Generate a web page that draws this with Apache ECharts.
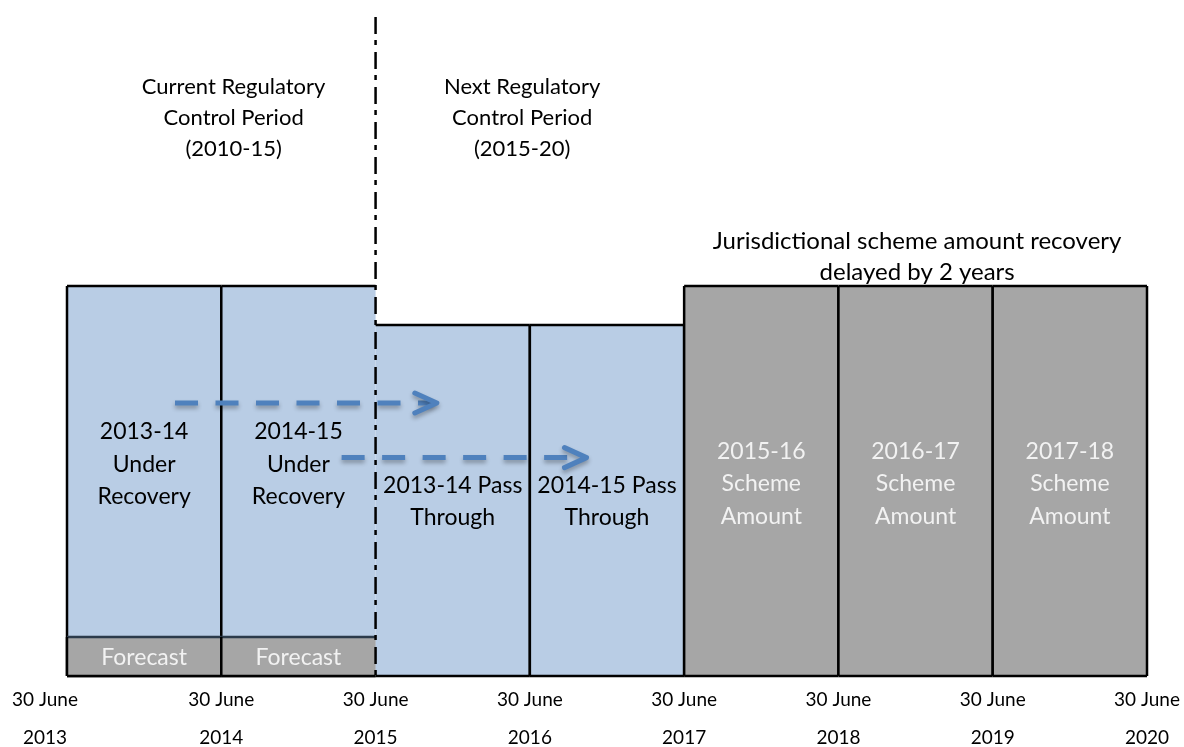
<!DOCTYPE html>
<html>
<head>
<meta charset="utf-8">
<script src="https://cdn.jsdelivr.net/npm/echarts@6/dist/echarts.min.js"></script>
<style>
  html, body { margin: 0; padding: 0; background: #fff; }
  #chart { width: 1184px; height: 747px; }
</style>
</head>
<body>
<div id="chart"></div>
<script>
// ticks along the bottom
const tickYears = [2013, 2014, 2015, 2016, 2017, 2018, 2019, 2020]
const tickPrefix = '30 June'

// the big blocks
const blockStart = [2013, 2014, 2015, 2016, 2017, 2018, 2019]
const blockEnd = [2014, 2015, 2016, 2017, 2018, 2019, 2020]
const blockHeight = [10, 10, 9, 9, 10, 10, 10]
const blockKind = ['under', 'under', 'pass', 'pass', 'scheme', 'scheme', 'scheme']
const blockLabel = [
  '2013-14\nUnder\nRecovery', '2014-15\nUnder\nRecovery',
  '2013-14 Pass\nThrough', '2014-15 Pass\nThrough',
  '2015-16\nScheme\nAmount', '2016-17\nScheme\nAmount', '2017-18\nScheme\nAmount'
]

// forecast strip under the first two blocks
const forecastStart = [2013, 2014]
const forecastEnd = [2014, 2015]
const forecastHeight = [1, 1]
const forecastLabel = ['Forecast', 'Forecast']

// period boundary
const periodBoundary = 2015
const boundaryTop = 16.9

// arrows
const arrowFromX = [2013.70, 2014.78]
const arrowToX = [2015.41, 2016.38]
const arrowY = [7.0, 5.6]

// annotations
const noteText = [
  'Current Regulatory\nControl Period\n(2010-15)',
  'Next Regulatory\nControl Period\n(2015-20)',
  'Jurisdictional scheme amount recovery\ndelayed by 2 years'
]
const noteX = [2014.08, 2015.95, 2018.51]
const noteY = [14.3, 14.3, 10.76]

const FONT = 'Lato, "Open Sans", sans-serif'
const BLUE = '#B9CDE5'
const GREY = '#A6A6A6'
const EDGE = '#000'

function edges(p0, p1, x0, x1, topColor) {
  const out = []
  const seg = (ax, ay, bx, by, c) => out.push({
    type: 'line',
    shape: { x1: ax, y1: ay, x2: bx, y2: by },
    style: { stroke: c || EDGE, lineWidth: 2.5 }
  })
  seg(p0[0], p1[1], p1[0], p1[1], topColor)
  seg(p0[0], p0[1], p1[0], p0[1])
  if (x0 !== periodBoundary) seg(p0[0], p0[1], p0[0], p1[1])
  if (x1 !== periodBoundary) seg(p1[0], p0[1], p1[0], p1[1])
  return out
}

function renderBlock(params, api) {
  const i = params.dataIndex
  const x0 = api.value(0)
  const x1 = api.value(1)
  const h = api.value(2)
  const kind = blockKind[i]
  const p0 = api.coord([x0, 0])
  const p1 = api.coord([x1, h])
  const base = kind === 'under' ? forecastHeight[0] : 0
  const mid = api.coord([(x0 + x1) / 2, (base + h) / 2])
  const children = [{
    type: 'rect',
    shape: { x: p0[0], y: p1[1], width: p1[0] - p0[0], height: p0[1] - p1[1] },
    style: { fill: kind === 'scheme' ? GREY : BLUE }
  }].concat(edges(p0, p1, x0, x1))
  children.push({
    type: 'text',
    x: mid[0],
    y: mid[1] + (kind === 'pass' ? 1 : 3),
    style: {
      text: blockLabel[i],
      fill: kind === 'scheme' ? '#F2F2F2' : '#000',
      fontFamily: FONT,
      fontSize: 23,
      lineHeight: 32.5,
      align: 'center',
      verticalAlign: 'middle'
    }
  })
  return { type: 'group', children: children }
}

function renderForecast(params, api) {
  const i = params.dataIndex
  const x0 = api.value(0)
  const x1 = api.value(1)
  const p0 = api.coord([x0, 0])
  const p1 = api.coord([x1, api.value(2)])
  const children = [{
    type: 'rect',
    shape: { x: p0[0], y: p1[1], width: p1[0] - p0[0], height: p0[1] - p1[1] },
    style: { fill: GREY }
  }].concat(edges(p0, p1, x0, x1, '#2B3A4A'))
  children.push({
    type: 'text',
    x: (p0[0] + p1[0]) / 2,
    y: (p0[1] + p1[1]) / 2 + 1,
    style: {
      text: forecastLabel[i],
      fill: '#F2F2F2',
      fontFamily: FONT,
      fontSize: 23,
      align: 'center',
      verticalAlign: 'middle'
    }
  })
  return { type: 'group', children: children }
}

function renderBoundary(params, api) {
  const a = api.coord([api.value(0), api.value(1)])
  const b = api.coord([api.value(0), 0])
  return {
    type: 'line',
    shape: { x1: a[0], y1: a[1], x2: b[0], y2: b[1] },
    style: { stroke: '#000', lineWidth: 2.5, lineDash: [17, 6, 5, 7] }
  }
}

function renderArrow(params, api) {
  const a = api.coord([api.value(0), api.value(2)])
  const b = api.coord([api.value(1), api.value(2)])
  const tip = b[0] - 2
  const look = {
    stroke: '#4F81BD',
    lineWidth: 5,
    shadowBlur: 4,
    shadowOffsetY: 3,
    shadowColor: 'rgba(0,0,0,0.3)'
  }
  return {
    type: 'group',
    children: [{
      type: 'line',
      shape: { x1: a[0], y1: a[1], x2: tip - 4, y2: b[1] },
      style: Object.assign({ lineDash: [23, 17.5] }, look)
    }, {
      type: 'polyline',
      shape: { points: [[tip - 22, b[1] - 10], [tip, b[1]], [tip - 22, b[1] + 10]] },
      style: Object.assign({ fill: null, lineCap: 'round', lineJoin: 'round' }, look)
    }]
  }
}

function renderNote(params, api) {
  const i = params.dataIndex
  const p = api.coord([api.value(0), api.value(1)])
  return {
    type: 'text',
    x: p[0],
    y: p[1],
    style: {
      text: noteText[i],
      fill: '#000',
      fontFamily: FONT,
      fontSize: i === 2 ? 24 : 22,
      lineHeight: 31,
      align: 'center',
      verticalAlign: 'middle'
    }
  }
}

const chart = echarts.init(document.getElementById('chart'))
chart.setOption({
  animation: false,
  backgroundColor: '#fff',
  grid: { left: 67, right: 37, top: 13, bottom: 71, containLabel: false, outerBoundsMode: 'none' },
  xAxis: {
    type: 'value',
    min: tickYears[0],
    max: tickYears[tickYears.length - 1],
    interval: 1,
    axisLine: { show: false },
    axisTick: { show: false },
    splitLine: { show: false },
    axisLabel: {
      margin: 5,
      color: '#000',
      fontFamily: FONT,
      fontSize: 19,
      lineHeight: 38,
      formatter: function (v) {
        if (v === tickYears[0]) return '{f|' + tickPrefix + '}\n{f|' + v + '}'
        return tickPrefix + '\n' + v
      },
      rich: {
        f: { padding: [0, 44, 0, 0], color: '#000', fontFamily: FONT, fontSize: 19, lineHeight: 38 }
      }
    }
  },
  yAxis: {
    type: 'value',
    min: 0,
    max: 17,
    show: false
  },
  series: [{
    type: 'custom',
    z: 2,
    renderItem: renderBlock,
    data: blockStart.map((s, i) => [s, blockEnd[i], blockHeight[i]])
  }, {
    type: 'custom',
    z: 3,
    renderItem: renderForecast,
    data: forecastStart.map((s, i) => [s, forecastEnd[i], forecastHeight[i]])
  }, {
    type: 'custom',
    z: 4,
    renderItem: renderBoundary,
    data: [[periodBoundary, boundaryTop]]
  }, {
    type: 'custom',
    z: 5,
    renderItem: renderArrow,
    data: arrowFromX.map((s, i) => [s, arrowToX[i], arrowY[i]])
  }, {
    type: 'custom',
    z: 5,
    renderItem: renderNote,
    data: noteX.map((x, i) => [x, noteY[i]])
  }]
})
</script>
</body>
</html>
